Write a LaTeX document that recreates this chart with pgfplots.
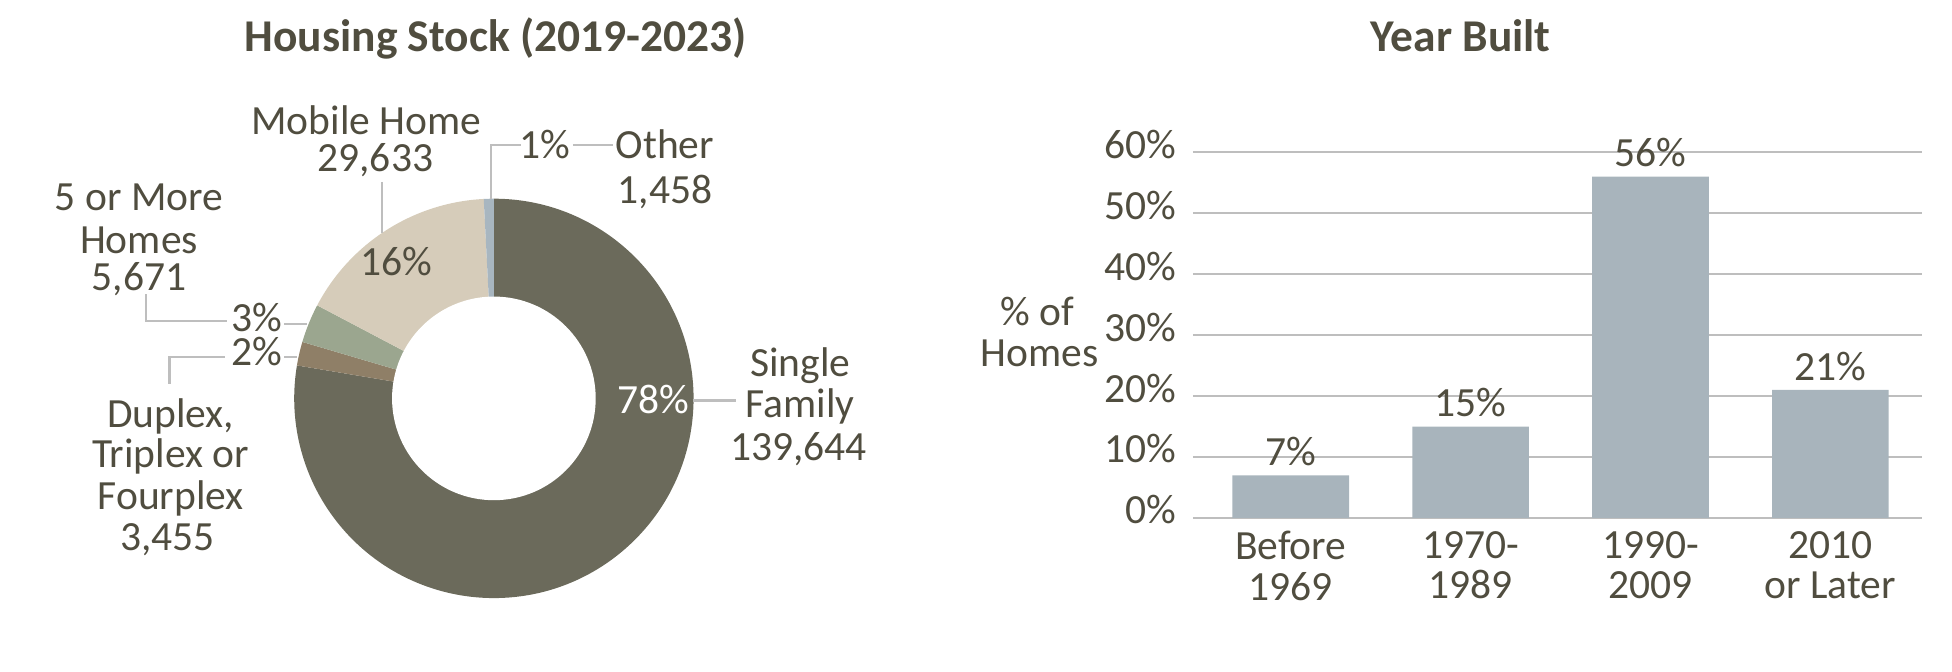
\documentclass[border=0pt]{standalone}
\usepackage{fontspec}
\setmainfont{Carlito}
\usepackage{pgfplots}
\usepackage{pgfplotstable}
\pgfplotsset{compat=1.18}

\definecolor{txt}{RGB}{80,77,63}
\definecolor{lead}{RGB}{190,190,190}
\definecolor{slice0}{RGB}{107,106,91}
\definecolor{slice1}{RGB}{143,127,103}
\definecolor{slice2}{RGB}{155,166,143}
\definecolor{slice3}{RGB}{214,204,186}
\definecolor{slice4}{RGB}{168,182,192}
\definecolor{barcol}{RGB}{168,180,188}

% housing stock, clockwise from the top
\pgfplotstableread{
type value
single 139644
duplex 3455
five 5671
mobile 29633
other 1458
}\housing

\pgfplotstableread{
x pct
0 7
1 15
2 56
3 21
}\yearbuilt

\begin{document}
% cumulative angles of the slices
\xdef\hstotal{0}
\foreach \i in {0,...,4}{%
  \pgfplotstablegetelem{\i}{value}\of\housing
  \xdef\hstotal{\fpeval{\hstotal+\pgfplotsretval}}%
}
\xdef\hscum{0}
\foreach \i in {0,...,4}{%
  \pgfplotstablegetelem{\i}{value}\of\housing
  \expandafter\xdef\csname hsA\i\endcsname{\fpeval{90-360*\hscum/\hstotal}}%
  \xdef\hscum{\fpeval{\hscum+\pgfplotsretval}}%
  \expandafter\xdef\csname hsB\i\endcsname{\fpeval{90-360*\hscum/\hstotal}}%
}
\newcommand{\lbl}[3]{\node[anchor=base] at (axis cs:#1,#2) {#3};}
\begin{tikzpicture}[every node/.style={font=\fontsize{21}{21}\selectfont, text=txt, inner sep=0pt}]
\useasboundingbox (0,0) rectangle (976pt,339.5pt);

\node[anchor=base, font=\fontsize{23}{23}\selectfont\bfseries] at (239.5pt,313.5pt) {Housing Stock (2019-2023)};
\node[anchor=base, font=\fontsize{23}{23}\selectfont\bfseries] at (727.5pt,313.5pt) {Year Built};

% donut
\begin{axis}[at={(238.5pt,138pt)}, anchor=center, x=1pt, y=1pt,
    xmin=-101, xmax=101, ymin=-101, ymax=101, hide axis, clip=false]
\pgfplotsinvokeforeach{0,...,4}{%
  \fill[slice#1] (axis cs:0,0) -- ([shift={({\csname hsA#1\endcsname}:101pt)}]axis cs:0,0)
    arc[start angle={\csname hsA#1\endcsname}, end angle={\csname hsB#1\endcsname}, radius=101pt] -- cycle;
}
\fill[white] (axis cs:0,0) circle[radius=51.5pt];

\draw[lead, line width=1.2pt] (axis cs:100.5,-1) -- (axis cs:122.5,-1);
\draw[lead, line width=1.2pt] (axis cs:13.5,128) -- (axis cs:-1.5,128) -- (axis cs:-1.5,101);
\draw[lead, line width=1.2pt] (axis cs:40,128) -- (axis cs:60,128);
\draw[lead, line width=1.2pt] (axis cs:-56.5,109.5) -- (axis cs:-56.5,83.5);
\draw[lead, line width=1.2pt] (axis cs:-106,37.5) -- (axis cs:-94.5,37.5);
\draw[lead, line width=1.2pt] (axis cs:-135,39) -- (axis cs:-176,39) -- (axis cs:-176,53);
\draw[lead, line width=1.2pt] (axis cs:-106,21) -- (axis cs:-99.5,21);
\draw[lead, line width=1.2pt] (axis cs:-136,21) -- (axis cs:-164,21) -- (axis cs:-164,7.5);

\node[anchor=base, text=white] at (axis cs:80.5,-7.5) {78\%};
\lbl{-49.5}{62}{16\%}
\lbl{-120}{34}{3\%}
\lbl{-120}{16.5}{2\%}
\lbl{26}{121.5}{1\%}
\lbl{155}{11}{Single}
\lbl{155}{-9.5}{Family}
\lbl{154}{-31.5}{139,644}
\lbl{-64.5}{133.5}{Mobile Home}
\lbl{-60}{114.5}{29,633}
\lbl{86.5}{121.5}{Other}
\lbl{86.5}{98.5}{1,458}
\lbl{-179.5}{95}{5 or More}
\lbl{-179.5}{73.5}{Homes}
\lbl{-179.5}{54.5}{5,671}
\lbl{-163.5}{-14.5}{Duplex,}
\lbl{-163.5}{-35}{Triplex or}
\lbl{-163.5}{-56}{Fourplex}
\lbl{-165}{-77}{3,455}
\end{axis}

% year built
\node[anchor=base] at (513.5pt,175pt) {\% of};
\node[anchor=base] at (514.5pt,154pt) {Homes};
\begin{axis}[at={(592pt,77.5pt)}, anchor=south west, scale only axis,
    width=369pt, height=185pt,
    xmin=-0.544, xmax=3.511, ymin=0, ymax=60,
    axis line style={draw=none}, major tick length=0pt,
    ymajorgrids, grid style={lead, line width=1.2pt},
    ytick={0,10,...,60},
    /pgf/number format/assume math mode=true,
    yticklabel={\pgfmathprintnumber{\tick}\%},
    yticklabel style={anchor=base east, inner sep=0pt, xshift=-8pt, yshift=-3pt},
    xtick=data,
    xticklabels={{Before\\1969},{1970-\\1989},{1990-\\2009},{2010\\or Later}},
    xticklabel style={align=center, anchor=north, inner sep=0pt, yshift=-6.5pt,
      font=\fontsize{21}{20.5}\selectfont},
    ybar, bar width=59pt, clip=false,
    nodes near coords={\pgfmathprintnumber{\pgfplotspointmeta}\%},
    nodes near coords style={anchor=base, inner sep=0pt, yshift=5pt}]
\addplot[fill=barcol, draw=none] table[x=x, y=pct] {\yearbuilt};
\end{axis}
\end{tikzpicture}
\end{document}
